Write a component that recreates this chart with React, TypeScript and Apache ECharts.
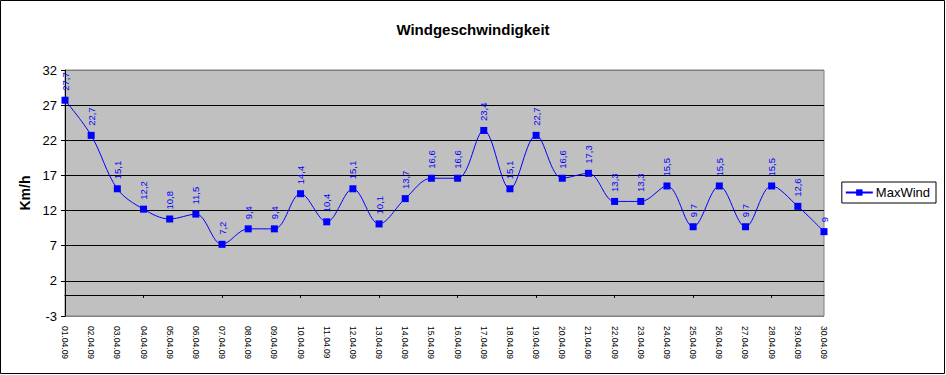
import React, { useEffect, useRef } from "react";
import * as echarts from "echarts";

const categories = [
  "01.04.09", "02.04.09", "03.04.09", "04.04.09", "05.04.09", "06.04.09", "07.04.09", "08.04.09", "09.04.09", "10.04.09",
  "11.04.09", "12.04.09", "13.04.09", "14.04.09", "15.04.09", "16.04.09", "17.04.09", "18.04.09", "19.04.09", "20.04.09",
  "21.04.09", "22.04.09", "23.04.09", "24.04.09", "25.04.09", "26.04.09", "27.04.09", "28.04.09", "29.04.09", "30.04.09",
];
const maxWind = [
  27.7, 22.7, 15.1, 12.2, 10.8, 11.5, 7.2, 9.4, 9.4, 14.4,
  10.4, 15.1, 10.1, 13.7, 16.6, 16.6, 23.4, 15.1, 22.7, 16.6,
  17.3, 13.3, 13.3, 15.5, 9.7, 15.5, 9.7, 15.5, 12.6, 9,
];
const seriesName = "MaxWind";
const titleText = "Windgeschwindigkeit";
const yAxisName = "Km/h";
const yMin = -3;
const yMax = 32;
const yStep = 5;

const sans = "'Liberation Sans', Arial, sans-serif";

export default function App() {
  const ref = useRef<HTMLDivElement>(null);
  useEffect(() => {
    document.body.style.margin = "0";
    const chart = echarts.init(ref.current!, null, { renderer: "svg" });
    chart.setOption({
      animation: false,
      backgroundColor: "#ffffff",
      title: {
        text: titleText,
        left: "center",
        top: 17,
        textStyle: { fontFamily: sans, fontSize: 15, fontWeight: "bold", color: "#000" },
      },
      legend: {
        data: [seriesName],
        right: 10,
        top: 182,
        orient: "vertical",
        borderColor: "#000",
        borderWidth: 1,
        borderRadius: 0,
        padding: [4, 6, 4, 3],
        itemWidth: 27,
        itemHeight: 8,
        itemGap: 0,
        textStyle: { fontFamily: sans, fontSize: 13, color: "#000", padding: [0, 0, 0, -2] },
      },
      graphic: [
        {
          type: "rect",
          shape: { x: 0.5, y: 0.5, width: 944, height: 373 },
          style: { fill: "none", stroke: "#000", lineWidth: 1 },
          silent: true,
          z: 100,
        },
      ],
      grid: {
        left: 65,
        right: 122,
        top: 70,
        bottom: 59,
        show: true,
        backgroundColor: "#c0c0c0",
        borderColor: "#808080",
        borderWidth: 1,
      },
      xAxis: [
        {
          type: "category",
          data: categories,
          boundaryGap: false,
          axisLine: { onZero: true, lineStyle: { color: "#000", width: 1 } },
          axisTick: { show: true, length: 3, lineStyle: { color: "#000" } },
          axisLabel: { show: false },
          splitLine: { show: false },
        },
        {
          type: "category",
          data: categories,
          boundaryGap: false,
          position: "bottom",
          axisLine: { show: false, onZero: false },
          axisTick: { show: false },
          axisLabel: {
            show: true,
            interval: 0,
            rotate: -90,
            margin: 10,
            fontFamily: sans,
            fontSize: 8.5,
            color: "#000",
          },
          splitLine: { show: false },
        },
      ],
      yAxis: {
        type: "value",
        min: yMin,
        max: yMax,
        interval: yStep,
        name: yAxisName,
        nameLocation: "middle",
        nameGap: 30,
        nameRotate: 90,
        nameTextStyle: { fontFamily: sans, fontSize: 14, fontWeight: "bold", color: "#000" },
        axisLine: { show: true, lineStyle: { color: "#000", width: 1 } },
        axisTick: { show: true, length: 4, lineStyle: { color: "#000" } },
        axisLabel: { fontFamily: sans, fontSize: 13, color: "#000", margin: 8 },
        splitLine: {
          show: true,
          lineStyle: {
            color: ["#808080", "#000", "#000", "#000", "#000", "#000", "#000", "#808080"],
            width: 1,
          },
        },
      },
      series: [
        {
          name: seriesName,
          type: "line",
          xAxisIndex: 0,
          data: maxWind,
          smooth: 0.35,
          symbol: "rect",
          symbolSize: 7,
          itemStyle: { color: "#0000ff" },
          lineStyle: { color: "#0000ff", width: 1 },
          label: {
            show: true,
            position: "top",
            rotate: 90,
            align: "left",
            verticalAlign: "middle",
            distance: 6,
            fontFamily: sans,
            fontSize: 9.5,
            color: "#0000ff",
            formatter: (p: any) => String(p.value).replace(".", ","),
          },
        },
      ],
    });
    return () => chart.dispose();
  }, []);
  return <div ref={ref} style={{ width: 946, height: 375 }} />;
}
